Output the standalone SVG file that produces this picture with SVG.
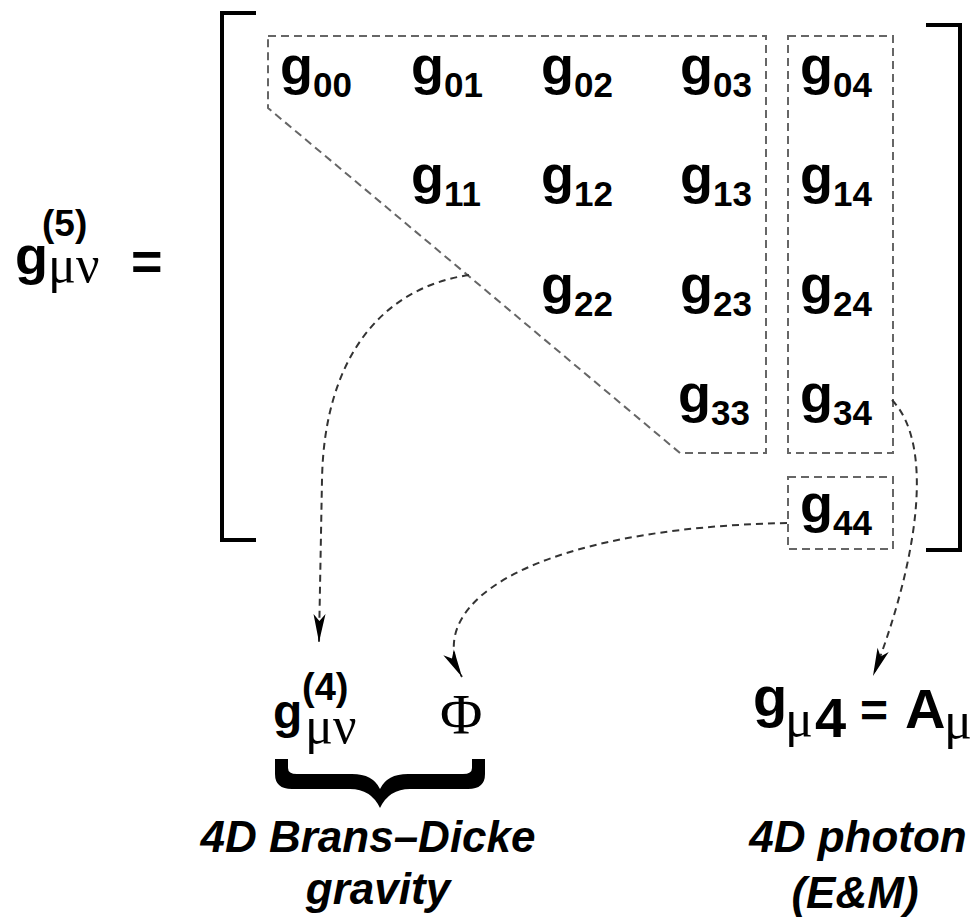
<svg xmlns="http://www.w3.org/2000/svg" width="980" height="923" viewBox="0 0 980 923">
  <style>
    .b { font-family: "Liberation Sans", Arial, sans-serif; font-weight: bold; fill: #000; }
    .bi { font-family: "Liberation Sans", Arial, sans-serif; font-weight: bold; font-style: italic; fill: #000; font-size: 44px; text-anchor: middle; }
    .gr { font-family: "Liberation Serif", "Times New Roman", serif; font-weight: normal; }
    .g { font-size: 54px; }
    .sub { font-size: 35px; }
    .box { fill: none; stroke: #666; stroke-width: 2; stroke-dasharray: 8 5; }
    .bracket { fill: none; stroke: #000; stroke-width: 4; }
    .link { fill: none; stroke: #333; stroke-width: 2; stroke-dasharray: 7 5; }
  </style>
  <defs>
    <marker id="arrow" markerUnits="userSpaceOnUse" markerWidth="32" markerHeight="16" viewBox="-30 -8 32 16" refX="0" refY="0" orient="auto">
      <path d="M0,0 L-28,-6 L-21,0 L-28,6 Z" fill="#000"/>
    </marker>
  </defs>

  <rect width="980" height="923" fill="#fff"/>

  <!-- left-hand side: g^(5)_{mu nu} = -->
  <g id="lhs">
    <text class="b"><tspan font-size="54" x="15" y="274">g</tspan><tspan font-size="37" x="42" y="236">(5)</tspan><tspan class="gr" font-size="52" x="48" y="282">μν</tspan></text>
    <text class="b" font-size="54" x="131" y="280">=</text>
  </g>

  <!-- matrix brackets -->
  <g id="brackets">
    <path class="bracket" d="M256,13 L222,13 L222,540 L256,540"/>
    <path class="bracket" d="M926,25 L960,25 L960,550 L926,550"/>
  </g>

  <!-- dashed groupings -->
  <g id="box-gravity">
    <path class="box" d="M268,36 L766,36 L766,453 L680,453 L268,108 Z"/>
  </g>
  <g id="box-photon">
    <rect class="box" x="788" y="36" width="105" height="417"/>
  </g>
  <g id="box-scalar">
    <rect class="box" x="788" y="477" width="105" height="72"/>
  </g>

  <!-- matrix entries -->
  <g id="entries" class="b">
    <text class="g" x="280" y="84">g<tspan class="sub" dy="13">00</tspan></text>
    <text class="g" x="411" y="84">g<tspan class="sub" dy="13">01</tspan></text>
    <text class="g" x="541" y="84">g<tspan class="sub" dy="13">02</tspan></text>
    <text class="g" x="680" y="84">g<tspan class="sub" dy="13">03</tspan></text>
    <text class="g" x="800" y="84">g<tspan class="sub" dy="13">04</tspan></text>

    <text class="g" x="411" y="193">g<tspan class="sub" dy="13">11</tspan></text>
    <text class="g" x="541" y="193">g<tspan class="sub" dy="13">12</tspan></text>
    <text class="g" x="680" y="193">g<tspan class="sub" dy="13">13</tspan></text>
    <text class="g" x="800" y="193">g<tspan class="sub" dy="13">14</tspan></text>

    <text class="g" x="541" y="303">g<tspan class="sub" dy="13">22</tspan></text>
    <text class="g" x="680" y="303">g<tspan class="sub" dy="13">23</tspan></text>
    <text class="g" x="800" y="303">g<tspan class="sub" dy="13">24</tspan></text>

    <text class="g" x="678" y="412">g<tspan class="sub" dy="13">33</tspan></text>
    <text class="g" x="800" y="412">g<tspan class="sub" dy="13">34</tspan></text>

    <text class="g" x="800" y="522">g<tspan class="sub" dy="13">44</tspan></text>
  </g>

  <!-- connectors -->
  <g id="connectors">
    <path class="link" marker-end="url(#arrow)" d="M469,275 C380,288 324,360 322,480 L319,642"/>
    <path class="link" marker-end="url(#arrow)" d="M787,523 C540,528 420,600 462,677"/>
    <path class="link" marker-end="url(#arrow)" d="M892,400 C935,445 918,560 873,676"/>
  </g>

  <!-- 4D metric g^(4)_{mu nu} -->
  <g id="g4">
    <text class="b"><tspan font-size="48" x="273" y="728">g</tspan><tspan font-size="38" x="302" y="700">(4)</tspan><tspan class="gr" font-size="52" x="305" y="743">μν</tspan></text>
  </g>

  <!-- dilaton Phi -->
  <g id="phi">
    <text class="gr" font-size="58" x="440" y="734">Φ</text>
  </g>

  <!-- underbrace -->
  <g id="brace">
    <path fill="#000" d="M275,759 L288,759 L288,768 Q288,774 297,774 L352,774 Q373,774 380,789 Q387,774 408,774 L463,774 Q472,774 472,768 L472,759 L485,759 L485,774 Q485,789 468,789 L410,789 Q389,789 380,808 Q371,789 350,789 L292,789 Q275,789 275,774 Z"/>
  </g>

  <!-- photon g_{mu 4} = A_mu -->
  <g id="photon">
    <text class="b"><tspan font-size="56" x="753" y="716">g</tspan><tspan class="gr" font-size="52" x="785" y="736">μ</tspan><tspan font-size="56" x="815" y="737">4</tspan><tspan font-size="48" x="860" y="727">=</tspan><tspan font-size="56" x="905" y="728">A</tspan><tspan class="gr" font-size="52" x="944" y="738">μ</tspan></text>
  </g>

  <!-- captions -->
  <g id="caption-gravity">
    <text class="bi" x="368" y="852">4D Brans–Dicke</text>
    <text class="bi" x="378" y="904">gravity</text>
  </g>
  <g id="caption-photon">
    <text class="bi" x="858" y="852">4D photon</text>
    <text class="bi" x="855" y="908">(E&amp;M)</text>
  </g>
</svg>
